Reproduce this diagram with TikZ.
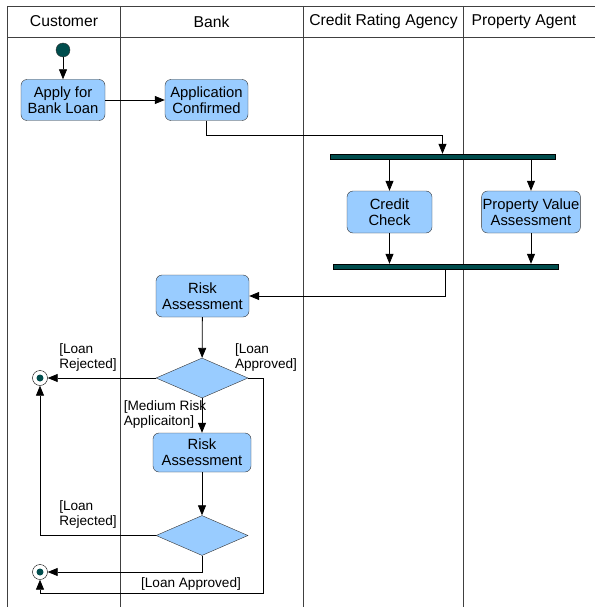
\documentclass[tikz,border=0pt]{standalone}
\usepackage{fontspec}
\setmainfont{Liberation Sans}
\usetikzlibrary{shapes.geometric,arrows.meta,positioning,calc}
\definecolor{actfill}{HTML}{99CCFF}
\definecolor{darkteal}{HTML}{004D4D}

\begin{document}
\begin{tikzpicture}[
  x=1pt, y=-1pt,
  font=\fontsize{14.8}{16}\selectfont,
  box/.style={draw=black!80, fill=actfill, rounded corners=6pt, minimum width=84pt, minimum height=41pt, inner sep=1pt, align=center},
  decision/.style={draw=black!80, fill=actfill, diamond, minimum width=92pt, minimum height=40pt, inner sep=0pt},
  bar/.style={draw=black, fill=darkteal, minimum height=5pt, inner sep=0pt},
  startnode/.style={draw=black!80, fill=darkteal, circle, minimum size=14pt, inner sep=0pt},
  endnode/.style={draw=black, fill=white, circle, minimum size=15pt, inner sep=0pt,
    path picture={\fill[darkteal] (path picture bounding box.center) circle (3.5pt);}},
  guard/.style={font=\fontsize{13.6}{15}\selectfont, align=left, inner sep=0pt},
  header/.style={font=\fontsize{15.7}{17}\selectfont},
  lane/.style={draw=black!75, line width=0.9pt},
  >={Triangle[length=10pt,width=8pt]},
  flow/.style={->, draw=black, line width=0.8pt}
]
  \useasboundingbox (0,0) rectangle (595,607);

  % swimlanes
  \draw[lane] (7,6) -- (595,6);
  \draw[lane] (7,37) -- (595,37);
  \foreach \x in {7,120,303,463}
    \draw[lane] (\x,6) -- (\x,607);

  \node[header] (hCustomer) at (64,21.5) {Customer};
  \node[header] (hBank) at (211.5,21.5) {Bank};
  \node[header] (hAgency) at (383.5,21.5) {Credit Rating Agency};
  \node[header] (hProperty) at (524,21.5) {Property Agent};

  % activities
  \node[startnode] (start) at (63,50) {};
  \node[box] (apply) at (63,100) {Apply for\\Bank Loan};
  \node[box, minimum width=83pt] (confirmed) at (206.5,100) {Application\\Confirmed};
  \node[bar, minimum width=225pt] (fork) at (442.5,156.5) {};
  \node[box, minimum width=85pt, minimum height=42pt] (credit) at (389.5,212) {Credit\\Check};
  \node[box, minimum width=98pt, minimum height=42pt] (property) at (531,212) {Property Value\\Assessment};
  \node[bar, minimum width=225pt] (join) at (445.5,266.5) {};
  \node[box, minimum width=93pt, minimum height=42pt] (riskA) at (202.5,296) {Risk\\Assessment};
  \node[decision] (checkA) at (202,378) {};
  \node[endnode] (endA) at (40,378) {};
  \node[box, minimum width=98pt, minimum height=39pt] (riskB) at (202,452.5) {Risk\\Assessment};
  \node[decision] (checkB) at (202,535.5) {};
  \node[endnode] (endB) at (40,572) {};
  \coordinate (approvedTurn) at (263,593);

  % guards
  \node[guard] (rejectA) at (88,357) {[Loan\\Rejected]};
  \node[guard] (approveA) at (266,357) {[Loan\\Approved]};
  \node[guard] (medium) at (165,414) {[Medium Risk\\Applicaiton]};
  \node[guard] (rejectB) at (88,514) {[Loan\\Rejected]};
  \node[guard] (approveB) at (191,584) {[Loan Approved]};

  % flows
  \draw[flow] (start) -- (apply);
  \draw[flow] (apply) -- (confirmed);
  \draw[flow] (confirmed.south) -- ++(0,15) -| (fork.north);
  \draw[flow] (credit |- fork.south) -- (credit.north);
  \draw[flow] (property |- fork.south) -- (property.north);
  \draw[flow] (credit.south) -- (credit |- join.north);
  \draw[flow] (property.south) -- (property |- join.north);
  \draw[flow] (join.south) |- (riskA.east);
  \draw[flow] (riskA) -- (checkA);
  \draw[flow] (checkA.west) -- (endA);
  \draw[flow] (checkA.east) -| (approvedTurn) -| (endB.south);
  \draw[flow] (checkA.south) -- (riskB.north);
  \draw[flow] (riskB) -- (checkB);
  \draw[flow] (checkB.west) -| (endA.south);
  \draw[flow] (checkB.south) |- (endB.east);
\end{tikzpicture}
\end{document}
